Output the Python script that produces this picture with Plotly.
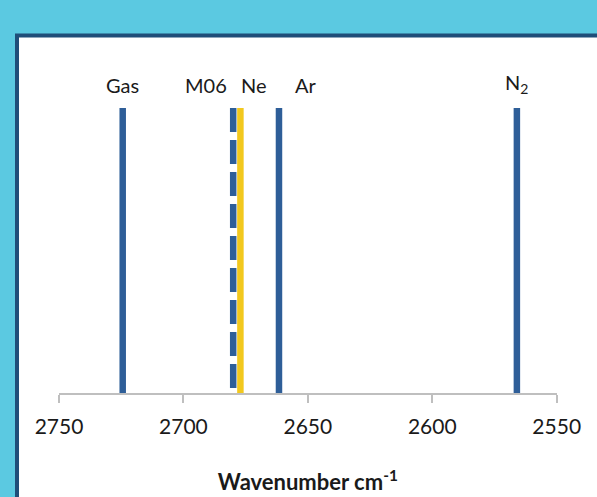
import plotly.graph_objects as go

# Data
labels = ["Gas", "M06", "Ne", "Ar", "N<sub>2</sub>"]
wavenumbers = [2724.4, 2680.0, 2677.1, 2661.6, 2566.0]
intensities = [1.0, 1.0, 1.0, 1.0, 1.0]
tick_vals = [2750, 2700, 2650, 2600, 2550]
tick_text = ["2750", "2700", "2650", "2600", "2550"]

W, H = 597, 497
BLUE = "#2E5E98"
YELLOW = "#F2C81E"
colors = [BLUE, BLUE, YELLOW, BLUE, BLUE]
dashes = ["solid", "24px,8px", "solid", "solid", "solid"]
label_shift = [0, -27, 14, 27, 0]

FONT = "Lato, Open Sans, sans-serif"

fig = go.Figure()
order = [0, 1, 3, 4, 2]  # draw yellow Ne last so it sits on top
for i in order:
    fig.add_trace(go.Scatter(
        x=[wavenumbers[i], wavenumbers[i]],
        y=[intensities[i], 0],
        mode="lines",
        line=dict(color=colors[i], width=6.5, dash=dashes[i]),
        showlegend=False,
        hoverinfo="x",
    ))

for i, lab in enumerate(labels):
    fig.add_annotation(
        x=wavenumbers[i], y=intensities[i], xref="x", yref="y",
        text=lab, showarrow=False, yanchor="bottom", yshift=9,
        xshift=label_shift[i],
        font=dict(family=FONT, size=20, color="#1a1a1a"),
    )

# white panel with dark navy border
fig.add_shape(type="rect", xref="paper", yref="paper",
              x0=17 / W, x1=1.2, y0=-0.2, y1=(H - 35.5) / H,
              line=dict(color="#1F4E79", width=4), fillcolor="white",
              layer="below")

fig.update_layout(
    width=W, height=H,
    margin=dict(l=0, r=0, t=0, b=0),
    paper_bgcolor="#5BC9E1",
    plot_bgcolor="rgba(0,0,0,0)",
    font=dict(family=FONT, size=20, color="#1a1a1a"),
    xaxis=dict(
        domain=[59 / W, 556.7 / W],
        range=[2750, 2550],
        tickvals=tick_vals, ticktext=tick_text,
        showline=True, linecolor="#BFBFBF", linewidth=1.5,
        ticks="outside", ticklen=8, tickcolor="#BFBFBF", tickwidth=1.5,
        showgrid=False, zeroline=False,
        tickfont=dict(family=FONT, size=21, color="#1a1a1a"),
        ticklabelstandoff=6,
        title=dict(text="<b>Wavenumber cm<sup>-1</sup></b>",
                   font=dict(family=FONT, size=22, color="#1a1a1a"),
                   standoff=38),
        automargin=False,
    ),
    yaxis=dict(
        domain=[(H - 393) / H, (H - 108) / H],
        range=[0, 1],
        visible=False,
    ),
)

fig.write_html("out.html",
               config={"displayModeBar": False},
               post_script="document.body.style.margin='0px';document.body.style.overflow='hidden';")
